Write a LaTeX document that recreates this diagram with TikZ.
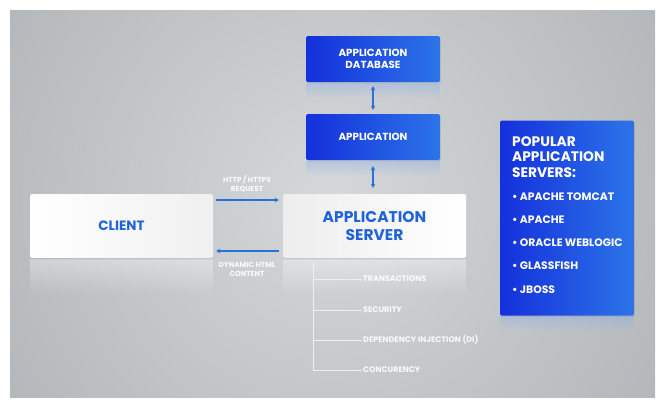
\documentclass[tikz,border=0pt]{standalone}
\usepackage{fontspec}
\setmainfont{Poppins}
\usetikzlibrary{arrows.meta,fadings,shadows}
\definecolor{bgin}{HTML}{D5D8DA}
\definecolor{bgout}{HTML}{9CA1A5}
\definecolor{bluel}{HTML}{1430DC}
\definecolor{bluer}{HTML}{2C74E8}
\definecolor{txtblue}{HTML}{1F63D8}
\definecolor{arrblue}{HTML}{2A6FDA}
\definecolor{treecol}{HTML}{EEEFF0}
\tikzfading[name=fadedown, top color=transparent!65, bottom color=transparent!100]
\tikzset{
  bluebox/.style={rectangle, rounded corners=1.5pt, left color=bluel, right color=bluer,
    text=white, font=\bfseries\fontsize{10.3}{12.5}\selectfont, align=center,
    drop shadow={opacity=0.25, shadow xshift=0.8pt, shadow yshift=-1.2pt}},
  whitebox/.style={rectangle, rounded corners=2pt, text=txtblue, align=center,
    drop shadow={opacity=0.18, shadow xshift=0pt, shadow yshift=-1.5pt}},
  flow/.style={arrblue, line width=1.3pt, -{Stealth[length=4pt,width=4.5pt]}},
  both/.style={arrblue, line width=1.3pt, {Stealth[length=4pt,width=4.5pt]}-{Stealth[length=4pt,width=4.5pt]}},
  small/.style={text=white, text opacity=0.9, font=\bfseries\fontsize{7.3}{9}\selectfont, align=center},
  tree/.style={treecol, line width=0.8pt},
  leaf/.style={text=white, text opacity=0.9, font=\bfseries\fontsize{8}{9}\selectfont, anchor=west, inner sep=1pt},
  item/.style={text=white, font=\bfseries\fontsize{10.8}{12}\selectfont, anchor=west, inner sep=0pt},
}
\begin{document}
\begin{tikzpicture}[x=1pt,y=-1pt]
\useasboundingbox (0,0) rectangle (665,408);
\fill[white] (0,0) rectangle (665,408);
\begin{scope}
\clip (10,10) rectangle (655,397);
\shade[inner color=bgin, outer color=bgout] (330,200) circle (640);
\end{scope}
% reflections
\fill[white, path fading=fadedown] (30,259) rectangle (213,295);
\fill[white, path fading=fadedown] (283,259) rectangle (466,295);
\fill[bluer!60!white, path fading=fadedown] (306,83) rectangle (440,98);
\fill[bluer!60!white, path fading=fadedown] (306,161) rectangle (440,176);
\fill[bluer!60!white, path fading=fadedown] (500,316) rectangle (634,330);
% boxes
\node[bluebox, minimum width=134pt, minimum height=46pt] (db) at (373,59) {APPLICATION\\DATABASE};
\node[bluebox, minimum width=134pt, minimum height=46pt] (app) at (373,137) {APPLICATION};
\node[whitebox, font=\bfseries\fontsize{13.5}{15}\selectfont, left color=white, right color=white!88!gray, minimum width=183pt, minimum height=64pt] (client) at (121.5,226) {CLIENT};
\node[whitebox, font=\bfseries\fontsize{15.5}{17.5}\selectfont, left color=white!86!gray, right color=white, minimum width=183pt, minimum height=64pt] (server) at (374.5,226) {APPLICATION\\SERVER};
\node[bluebox, minimum width=134pt, minimum height=195pt] (pop) at (567,218) {};
\node[text=white, font=\bfseries\fontsize{13.8}{15.8}\selectfont, align=left, anchor=west, inner sep=0pt] (hdr) at (512,157) {POPULAR\\APPLICATION\\SERVERS:};
\node[item] (i1) at (512,197) {• APACHE TOMCAT};
\node[item] (i2) at (512,220) {• APACHE};
\node[item] (i3) at (512,243) {• ORACLE WEBLOGIC};
\node[item] (i4) at (512,266) {• GLASSFISH};
\node[item] (i5) at (512,290) {• JBOSS};
% vertical arrows
\draw[both] ([yshift=-4pt]db.south) -- ([yshift=4pt]app.north);
\draw[both] ([yshift=-6pt]app.south) -- ([yshift=6pt]server.north -| app.south);
% horizontal arrows
\coordinate (c1) at (client.east |- 0,200);
\coordinate (s1) at (server.west |- 0,200);
\coordinate (c2) at (client.east |- 0,251);
\coordinate (s2) at (server.west |- 0,251);
\draw[flow] ([xshift=3pt]c1) -- ([xshift=-4pt]s1);
\draw[flow] ([xshift=-4pt]s2) -- ([xshift=3pt]c2);
\node[small] (req) at (247,184) {HTTP / HTTPS\\REQUEST};
\node[small] (resp) at (247,269) {DYNAMIC HTML\\CONTENT};
% tree
\coordinate (t0) at (313,262);
\coordinate (t4) at (313,370);
\node[leaf] (l1) at (362,279) {TRANSACTIONS};
\node[leaf] (l2) at (362,310) {SECURITY};
\node[leaf] (l3) at (362,340) {DEPENDENCY INJECTION (DI)};
\node[leaf] (l4) at (362,370) {CONCURENCY};
\draw[tree] (t0) -- (t4);
\draw[tree] (t0 |- l1.west) -- (l1.west);
\draw[tree] (t0 |- l2.west) -- (l2.west);
\draw[tree] (t0 |- l3.west) -- (l3.west);
\draw[tree] (t4) -- (l4.west);
\end{tikzpicture}
\end{document}
